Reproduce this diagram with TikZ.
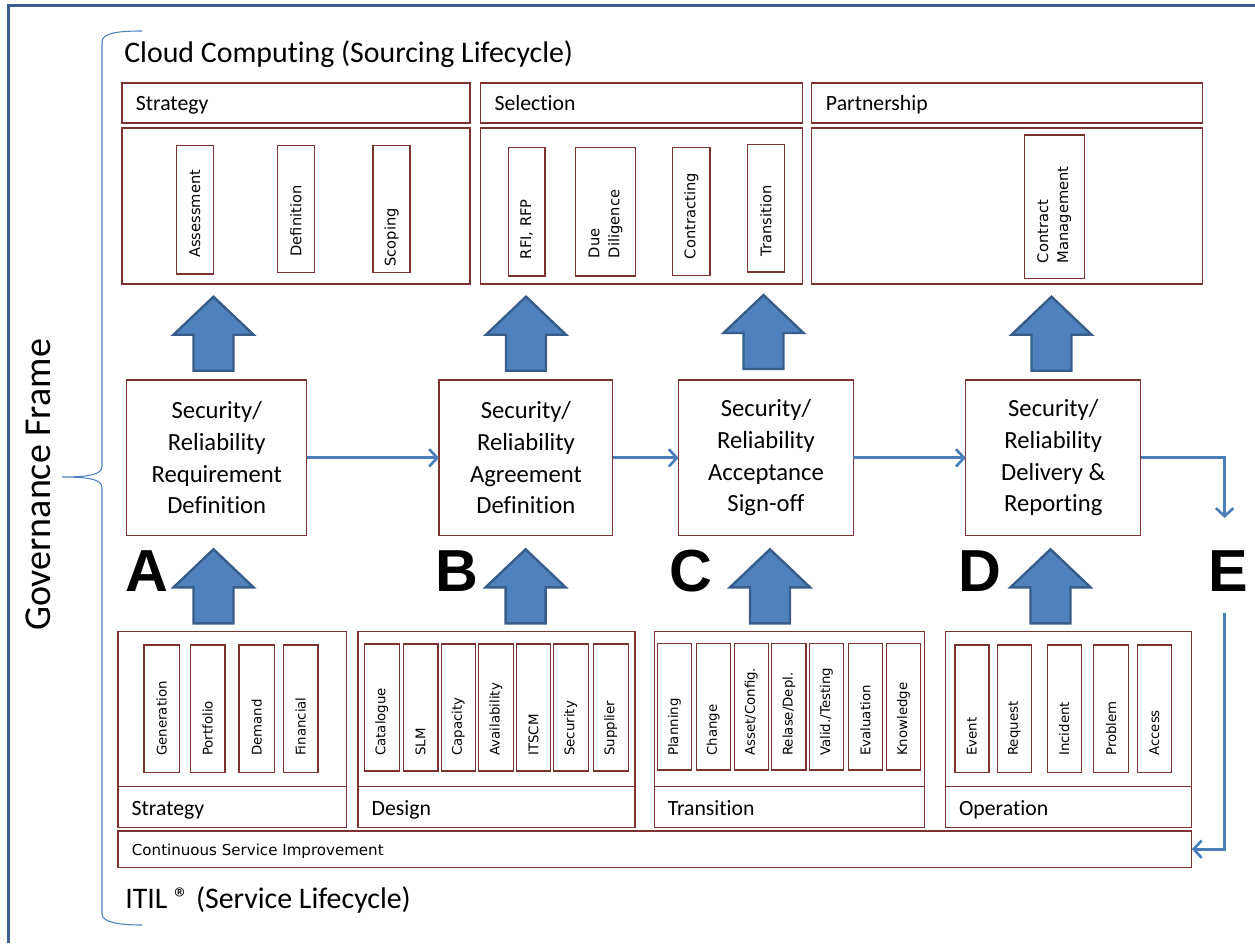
\documentclass[tikz,border=0pt]{standalone}
\usepackage{fontspec}
\setmainfont{Carlito}[Ligatures={NoCommon}]
\newfontfamily\labfont{DejaVu Sans}
\newfontfamily\letfont{Liberation Sans}
\usetikzlibrary{fit,arrows.meta}
\definecolor{boxred}{RGB}{125,50,50}
\definecolor{arrfill}{RGB}{79,129,189}
\definecolor{arrdraw}{RGB}{56,93,138}
\definecolor{connblue}{RGB}{74,126,187}
\definecolor{framec}{RGB}{59,94,140}
\definecolor{bracec}{RGB}{79,129,189}
\newcommand\ibox[8][vlabT]{%
  \node[box, fit={(#3,#5) (#4,#6)}] (#2) {};
  \node[#1] (#2-t) at ({(#3+#4)/2},#7) {#8};}
\newcommand\barrow[2]{%
  \draw[blk] (#1,#2) -- ++(40,38) -- ++(-20,0) -- ++(0,36) -- ++(-40,0) -- ++(0,-36) -- ++(-20,0) -- cycle;}
\begin{document}
\begin{tikzpicture}[x=0.75pt,y=-0.75pt,
  box/.style={draw=boxred, line width=0.9pt, inner sep=0pt, outer sep=0pt},
  vlabT/.style={font=\labfont\fontsize{11}{15}\selectfont, rotate=90, anchor=west, inner sep=0pt, align=left},
  vlabB/.style={font=\labfont\fontsize{10}{13}\selectfont, rotate=90, anchor=west, inner sep=0pt, align=left},
  head/.style={font=\fontsize{16.3}{19}\selectfont, anchor=base west, inner sep=0pt},
  title/.style={font=\fontsize{22.4}{26}\selectfont, anchor=base west, inner sep=0pt},
  mid/.style={box, align=center, font=\fontsize{18.5}{23.8}\selectfont},
  letter/.style={font=\letfont\bfseries\fontsize{44.5}{50}\selectfont, anchor=base west, inner sep=0pt},
  blk/.style={fill=arrfill, draw=arrdraw, line width=1.8pt, line join=miter},
  conn/.style={draw=connblue, line width=2.3pt, -{Straight Barb[length=6pt,width=13pt,line width=2pt]}},
]
\useasboundingbox (0,0) rectangle (1255,943);
% outer frame
\draw[framec, line width=2.6pt] (8.3,943) -- (8.3,5.7) -- (1255,5.7);
% brace
\draw[bracec, line width=0.8pt] (142,31) .. controls (118,31) and (102,33) .. (102,42) -- (102,466)
  .. controls (102,474) and (92,477) .. (62,477)
  .. controls (92,477) and (102,480) .. (102,488) -- (102,914)
  .. controls (102,922) and (118,925) .. (142,925);
\node[font=\fontsize{28.5}{32}\selectfont, rotate=90, inner sep=0pt] (gov) at (38,485) {Governance Frame};
% titles
\node[title] (tcloud) at (124,62) {Cloud Computing (Sourcing Lifecycle)};
\node[title] (titil) at (125,908) {ITIL ® (Service Lifecycle)};
% top boxes
\node[box, fit={(122,83) (470,123)}] (sh) {};
\node[box, fit={(122,128) (470,284)}] (sb) {};
\node[box, fit={(480.5,83) (802.3,123)}] (selh) {};
\node[box, fit={(480.5,128) (802.3,284)}] (selb) {};
\node[box, fit={(811.6,83) (1202.4,123)}] (ph) {};
\node[box, fit={(811.6,128) (1202.4,284)}] (pb) {};
\node[head] (shl) at (135.6,110) {Strategy};
\node[head] (selhl) at (494.3,110) {Selection};
\node[head] (phl) at (825.7,110) {Partnership};
\ibox{assess}{176.4}{213.5}{145.7}{274}{258}{Assessment}
\ibox{defin}{277.2}{314.4}{145.7}{272.7}{256.7}{Definition}
\ibox{scop}{372.9}{410}{145.7}{272.7}{266.7}{Scoping}
\ibox{rfi}{508.1}{544.9}{147.3}{276}{259.3}{RFI, RFP}
\ibox{due}{575.7}{635.4}{147.3}{276}{258.3}{Due\\Diligence}
\ibox{contr}{672.7}{709.9}{147.3}{275.7}{259.3}{Contracting}
\ibox{trans}{747.6}{784.4}{144.3}{272}{256.7}{Transition}
\ibox{cman}{1024.2}{1084.2}{135}{278.3}{263.3}{Contract\\Management}
% middle boxes
\node[mid, fit={(126.8,380) (306.7,535.7)}] (A) {};
\node[mid, fit={(439,380) (612.8,535.7)}] (B) {};
\node[mid, fit={(678.6,380) (853.3,535.7)}] (C) {};
\node[mid, fit={(965.8,380) (1140.7,535.7)}] (D) {};
\node[align=center, font=\fontsize{18.5}{23.8}\selectfont] (At) at (A.center) {Security/\\Reliability\\Requirement\\Definition};
\node[align=center, font=\fontsize{18.5}{23.8}\selectfont] (Bt) at (B.center) {Security/\\Reliability\\Agreement\\Definition};
\node[align=center, font=\fontsize{18.5}{23.8}\selectfont] (Ct) at (C.center) {Security/\\Reliability\\Acceptance\\Sign-off};
\node[align=center, font=\fontsize{18.5}{23.8}\selectfont] (Dt) at (D.center) {Security/\\Reliability\\Delivery \&\\Reporting};
% letters
\node[letter] (LA) at (125,591) {A};
\node[letter] (LB) at (435,591) {B};
\node[letter] (LC) at (669,591) {C};
\node[letter] (LD) at (958,591) {D};
\node[letter] (LE) at (1208,591) {E};
% block arrows
\barrow{213.5}{296.7}
\barrow{526}{296.7}
\barrow{763.5}{295}
\barrow{1051.5}{296.7}
\barrow{213.5}{549.3}
\barrow{525.6}{549.3}
\barrow{770}{549.3}
\barrow{1050.5}{549.3}
% bottom boxes
\node[box, fit={(118,631.7) (346.8,786.3)}] (isb) {};
\node[box, fit={(118,786.3) (346.8,827.3)}] (ish) {};
\node[box, fit={(357.9,631.7) (635,786.3)}] (idb) {};
\node[box, fit={(357.9,786.3) (635,827.3)}] (idh) {};
\node[box, fit={(654.5,631.7) (924.3,786.3)}] (itb) {};
\node[box, fit={(654.5,786.3) (924.3,827.3)}] (ith) {};
\node[box, fit={(945.5,631.7) (1191.8,786.3)}] (iob) {};
\node[box, fit={(945.5,786.3) (1191.8,827.3)}] (ioh) {};
\node[head] (ishl) at (131.4,815) {Strategy};
\node[head] (idhl) at (371.4,815) {Design};
\node[head] (ithl) at (667.5,815) {Transition};
\node[head] (iohl) at (958.8,815) {Operation};
\node[box, fit={(117.9,831) (1191.8,867.3)}] (csi) {};
\node[font=\labfont\fontsize{11.3}{13}\selectfont, anchor=base west, inner sep=0pt] (csil) at (131.7,855) {Continuous Service Improvement};
% ITIL inner boxes
\ibox[vlabB]{gen}{143.9}{179.3}{645}{772.3}{756}{Generation}
\ibox[vlabB]{port}{190.4}{225}{645}{772.3}{756}{Portfolio}
\ibox[vlabB]{dem}{238.9}{274.3}{645}{772.3}{756}{Demand}
\ibox[vlabB]{fin}{283.2}{317.9}{645}{772.3}{756}{Financial}
\ibox[vlabB]{cat}{364.3}{399.3}{644}{771}{756}{Catalogue}
\ibox[vlabB]{slm}{403.2}{437.9}{644}{771}{756}{SLM}
\ibox[vlabB]{cap}{441.1}{475.4}{644}{771}{756}{Capacity}
\ibox[vlabB]{avail}{478.6}{513.2}{644}{771}{756}{Availability}
\ibox[vlabB]{itscm}{516.4}{550.7}{644}{771}{756}{ITSCM}
\ibox[vlabB]{secu}{553.2}{588.2}{644}{771}{756}{Security}
\ibox[vlabB]{supp}{593.2}{628.2}{644}{771}{756}{Supplier}
\ibox[vlabB]{plan}{657.3}{691.4}{643.3}{770}{756}{Planning}
\ibox[vlabB]{chg}{696.1}{730.2}{643.3}{770}{756}{Change}
\ibox[vlabB]{asset}{734.1}{768.2}{643.3}{770}{756}{Asset/Config.}
\ibox[vlabB]{rel}{771.8}{805.9}{643.3}{770}{756}{Relase/Depl.}
\ibox[vlabB]{val}{809.4}{843.5}{643.3}{770}{756}{Valid./Testing}
\ibox[vlabB]{eval}{848.2}{882.4}{643.3}{770}{756}{Evaluation}
\ibox[vlabB]{know}{886.3}{920.4}{643.3}{770}{756}{Knowledge}
\ibox[vlabB]{evt}{954.9}{989}{645}{772.3}{756}{Event}
\ibox[vlabB]{req}{997.3}{1031.4}{645}{772.3}{756}{Request}
\ibox[vlabB]{inc}{1047.1}{1081.2}{645}{772.3}{756}{Incident}
\ibox[vlabB]{prob}{1093.7}{1128.6}{645}{772.3}{756}{Problem}
\ibox[vlabB]{acc}{1137.3}{1171.4}{645}{772.3}{756}{Access}
% connectors
\coordinate (Ein) at (1224.6,518);
\coordinate (Eout) at (1224.6,613);
\draw[conn] (A.east) -- (B.west);
\draw[conn] (B.east) -- (C.west);
\draw[conn] (C.east) -- (D.west);
\draw[conn] (D.east) -| (Ein);
\draw[conn] (Eout) |- (csi.east);
\end{tikzpicture}
\end{document}
